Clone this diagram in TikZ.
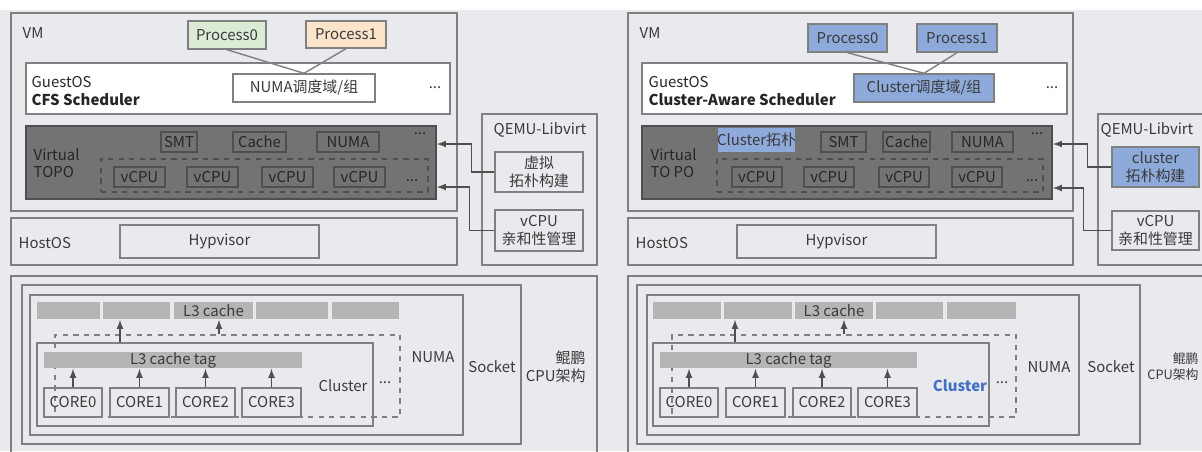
\documentclass[tikz,border=0pt]{standalone}
\usepackage{fontspec}
\setmainfont{Noto Sans CJK SC}
\usetikzlibrary{fit}

\definecolor{bggray}{HTML}{E8EAED}
\definecolor{linegray}{HTML}{808080}
\definecolor{textgray}{HTML}{3A3A3A}
\definecolor{topogray}{HTML}{737373}
\definecolor{topoline}{HTML}{4F4F4F}
\definecolor{topotext}{HTML}{262626}
\definecolor{cachegray}{HTML}{B5B5B5}
\definecolor{procgreen}{HTML}{DCEBD5}
\definecolor{procorange}{HTML}{FCE4CB}
\definecolor{procblue}{HTML}{8EAADB}
\definecolor{clusterblue}{HTML}{4472C4}

\tikzset{
  frame/.style={draw=linegray, inner sep=0pt},
  wbox/.style={frame, fill=white},
  pbox/.style={frame, fill=procblue},
  topo/.style={draw=topoline, fill=topogray, inner sep=0pt},
  tbox/.style={draw=topoline, inner sep=0pt},
  seg/.style={fill=cachegray, inner sep=0pt},
  txt/.style={label={[align=center]center:#1}},
  ttxt/.style={label={[text=topotext]center:#1}},
  lbl/.style={anchor=west, inner sep=0pt},
  flow/.style={draw=topoline, -latex},
  up/.style={draw=topoline, -latex},
}

\begin{document}
\begin{tikzpicture}[x=0.02cm, y=-0.02cm, line width=0.8pt,
    font=\fontsize{8.5}{10}\selectfont, text=textgray]
\useasboundingbox (0,0) rectangle (1202,451);
\clip (0,0) rectangle (1202,451);
\fill[bggray] (0,10) rectangle (1202,451);

% ---------- left: CFS scheduler ----------
\node[frame, fit={(11,13) (457,211)}] (vmL) {};
\node[lbl] (vmLt) at (22,33) {VM};
\node[frame, fill=procgreen, fit={(188,21) (266,49)}, txt=Process0] (p0L) {};
\node[frame, fill=procorange, fit={(306,21) (386,48)}, txt=Process1] (p1L) {};
\node[wbox, fit={(26,63) (450,114)}] (guestL) {};
\node[lbl, align=left, text=black!85] (guestLt) at (31,91) {GuestOS\\\textbf{CFS Scheduler}};
\node[wbox, fit={(233,74) (375,102)}, txt=NUMA调度域/组] (schL) {};
\node (dotsL1) at (435,88) {...};
\draw[linegray] (p0L.south) -- (schL.north);
\draw[linegray] (p1L.south) -- (schL.north);

\node[topo, fit={(26,126) (436,199)}] (topoL) {};
\node[lbl, align=left, text=topotext] (topoLt) at (33,163) {Virtual\\TOPO};
\node[tbox, fit={(161,132) (197,152)}, ttxt=SMT] (smtL) {};
\node[tbox, fit={(233,132) (286,152)}, ttxt=Cache] (cacheL) {};
\node[tbox, fit={(317,132) (379,152)}, ttxt=NUMA] (numaL) {};
\node[text=topotext] (dotsL2) at (420,134) {...};
\node[tbox, dashed, fit={(101,159) (428,192)}] (vgrpL) {};
\foreach \x [count=\i] in {140,213,288,360}
  \node[tbox, fit={(\x-26,167) (\x+25,187)}, ttxt=vCPU] (vcpuL\i) {};
\node[text=topotext] (dotsL3) at (412,181) {...};

\node[frame, fit={(482,114) (597,265)}] (qemuL) {};
\node (qemuLt) at (540,130) {QEMU-Libvirt};
\node[frame, fit={(495,152) (583,192)}, txt={虚拟\\拓朴构建}] (virtL) {};
\node[frame, fit={(495,210) (583,251)}, txt={vCPU\\亲和性管理}] (affL) {};
\draw[flow] (virtL.west) -- ++(-23,0) |- (topoL.east |- 0,144);
\draw[flow] (affL.west) -- ++(-25,0) |- (topoL.east |- 0,187);

\node[frame, fit={(11,218) (457,265)}] (hostL) {};
\node[lbl] (hostLt) at (18,243) {HostOS};
\node[frame, fit={(120,225) (319,258)}, txt=Hypvisor] (hypL) {};

\node[frame, fit={(11,276) (597,470)}] (cpuL) {};
\node[frame, fit={(22,285) (521,444)}] (sockL) {};
\node[frame, fit={(30,295) (463,435)}] (nodeL) {};
\node (sockLt) at (492,367) {Socket};
\node (nodeLt) at (433,357) {NUMA};
\node[anchor=east, align=right] (kpL) at (592,367) {鲲鹏\\CPU架构};
\foreach \a/\b [count=\i] in {37/100,103/170,174/253,256/328,332/399}
  \node[seg, fit={(\a,302) (\b,319)}] (l3L\i) {};
\node (l3Lt) at (l3L3) {L3 cache};
\node[frame, dashed, fit={(55,335) (400,417)}] (grpL) {};
\node[frame, fit={(37,343) (373,426)}] (clsL) {};
\node (clsLt) at (343,386) {Cluster};
\node (dotsL4) at (385,383) {...};
\node[seg, fit={(44,352) (302,368)}, txt=L3 cache tag] (tagL) {};
\foreach \a/\b [count=\i from 0] in {44/102,110/169,176/235,242/301}
  \node[frame, fit={(\a,388) (\b,417)}, txt=CORE\i] (coreL\i) {};
\foreach \i in {0,...,3}
  \draw[up] (coreL\i.north) -- (coreL\i.north |- tagL.south);
\draw[up] (120,0 |- clsL.north) -- (120,0 |- l3L2.south);
\draw[up] (219,0 |- grpL.north) -- (219,0 |- l3L3.south);

% ---------- right: cluster-aware scheduler ----------
\node[frame, fit={(628,13) (1073,211)}] (vmR) {};
\node[lbl] (vmRt) at (639,33) {VM};
\node[pbox, fit={(808,24) (887,52)}, txt=Process0] (p0R) {};
\node[pbox, fit={(917,24) (997,52)}, txt=Process1] (p1R) {};
\node[wbox, fit={(642,63) (1067,114)}] (guestR) {};
\node[lbl, align=left, text=black!85] (guestRt) at (648,91) {GuestOS\\\textbf{Cluster-Aware Scheduler}};
\node[pbox, fit={(854,74) (994,102)}, txt=Cluster调度域/组] (schR) {};
\node (dotsR1) at (1052,88) {...};
\draw[linegray] (p0R.south) -- (schR.north);
\draw[linegray] (p1R.south) -- (schR.north);

\node[topo, fit={(642,126) (1052,199)}] (topoR) {};
\node[lbl, align=left, text=topotext] (topoRt) at (650,163) {Virtual\\TO PO};
\node[seg, fill=procblue, fit={(718,128) (795,152)}, txt=Cluster拓朴] (ctopR) {};
\node[tbox, fit={(821,132) (866,152)}, ttxt=SMT] (smtR) {};
\node[tbox, fit={(883,132) (930,152)}, ttxt=Cache] (cacheR) {};
\node[tbox, fit={(952,132) (1013,152)}, ttxt=NUMA] (numaR) {};
\node[text=topotext] (dotsR2) at (1037,134) {...};
\node[tbox, dashed, fit={(717,159) (1043,192)}] (vgrpR) {};
\foreach \x [count=\i] in {757,829,904,977}
  \node[tbox, fit={(\x-25,167) (\x+25,187)}, ttxt=vCPU] (vcpuR\i) {};
\node[text=topotext] (dotsR3) at (1032,181) {...};

\node[frame, fit={(1098,114) (1215,265)}] (qemuR) {};
\node (qemuRt) at (1147,130) {QEMU-Libvirt};
\node[pbox, fit={(1112,147) (1199,187)}, txt={cluster\\拓朴构建}] (clusR) {};
\node[frame, fit={(1112,211) (1199,250)}, txt={vCPU\\亲和性管理}] (affR) {};
\draw[flow] (clusR.west) -- ++(-24,0) |- (topoR.east |- 0,144);
\draw[flow] (affR.west) -- ++(-28,0) |- (topoR.east |- 0,188);

\node[frame, fit={(628,218) (1073,265)}] (hostR) {};
\node[lbl] (hostRt) at (635,243) {HostOS};
\node[frame, fit={(737,225) (936,258)}, txt=Hypvisor] (hypR) {};

\node[frame, fit={(628,276) (1215,470)}] (cpuR) {};
\node[frame, fit={(637,285) (1140,444)}] (sockR) {};
\node[frame, fit={(647,295) (1079,435)}] (nodeR) {};
\node (sockRt) at (1111,367) {Socket};
\node (nodeRt) at (1049,367) {NUMA};
\node[anchor=east, align=right, inner sep=1pt, font=\fontsize{7.3}{9}\selectfont] (kpR) at (1201,367) {鲲鹏\\CPU架构};
\foreach \a/\b [count=\i] in {653/721,724/792,795/873,876/943,947/1016}
  \node[seg, fit={(\a,302) (\b,319)}] (l3R\i) {};
\node (l3Rt) at (l3R3) {L3 cache};
\node[frame, dashed, fit={(672,335) (1016,417)}] (grpR) {};
\node[frame, fit={(653,343) (989,426)}] (clsR) {};
\node[text=clusterblue, font=\fontsize{8.5}{10}\selectfont\bfseries] (clsRt) at (960,386) {Cluster};
\node (dotsR4) at (1002,383) {...};
\node[seg, fit={(660,352) (917,368)}, txt=L3 cache tag] (tagR) {};
\foreach \a/\b [count=\i from 0] in {660/718,726/785,793/851,858/917}
  \node[frame, fit={(\a,388) (\b,417)}, txt=CORE\i] (coreR\i) {};
\foreach \i in {0,...,3}
  \draw[up] (coreR\i.north) -- (coreR\i.north |- tagR.south);
\draw[up] (735,0 |- clsR.north) -- (735,0 |- l3R2.south);
\draw[up] (844,0 |- grpR.north) -- (844,0 |- l3R3.south);
\end{tikzpicture}
\end{document}
